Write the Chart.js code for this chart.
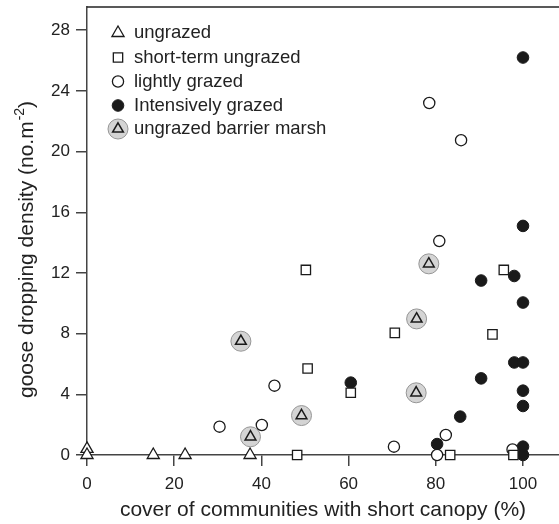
<!DOCTYPE html>
<html>
<head>
<meta charset="utf-8">
<script src="https://cdn.jsdelivr.net/npm/chart.js@4.4.1/dist/chart.umd.min.js"></script>
<style>
  html, body { margin: 0; padding: 0; background: #fff; }
  #wrap { width: 559px; height: 524px; }
</style>
</head>
<body>
<div id="wrap"><canvas id="chart"></canvas></div>
<script>
// valeurs
const ungrazedX = [0, 0, 15.2, 22.5, 37.4];
const ungrazedY = [0.4, 0, 0, 0, 0];

const shortTermX = [48.2, 50.2, 50.6, 60.5, 70.6, 83.3, 93.0, 95.6, 97.8];
const shortTermY = [0, 12.2, 5.7, 4.1, 8.05, 0, 7.95, 12.2, 0];

const lightlyX = [30.4, 40.1, 43.0, 70.4, 78.5, 80.3, 80.8, 82.3, 85.8, 97.6];
const lightlyY = [1.87, 1.98, 4.57, 0.55, 23.2, 0, 14.1, 1.32, 20.75, 0.37];

const intensX = [60.5, 80.3, 85.6, 90.4, 90.4, 98.0, 98.0, 100, 100, 100, 100, 100, 100, 100, 100];
const intensY = [4.77, 0.72, 2.53, 5.05, 11.5, 6.1, 11.8, 26.2, 15.1, 10.05, 6.1, 4.24, 3.23, 0.55, 0];

const barrierX = [35.3, 37.5, 49.2, 75.5, 75.6, 78.4];
const barrierY = [7.5, 1.2, 2.6, 4.1, 8.97, 12.6];

const xTicks = [0, 20, 40, 60, 80, 100];
const yTicks = [0, 4, 8, 12, 16, 20, 24, 28];

const legendLabels = ['ungrazed', 'short-term ungrazed', 'lightly grazed', 'Intensively grazed', 'ungrazed barrier marsh'];
const xTitle = 'cover of communities with short canopy (%)';
const yTitle = ['goose dropping density (no.m', '-2', ')'];

const ink = '#1a1a1a';
const textColor = '#222';
const axisColor = '#444';
const fontFamily = '"Liberation Sans", Arial, Helvetica, sans-serif';

function toPoints(xs, ys) {
    return xs.map((x, i) => ({ x: x, y: ys[i] }));
}

// styles des marqueurs
const styles = {
    ungrazed: { pointStyle: 'triangle', radius: 7, bg: '#fff', border: ink, bw: 1.3 },
    shortTerm: { pointStyle: 'rect', radius: 6.6, bg: '#fff', border: ink, bw: 1.3 },
    lightly: { pointStyle: 'circle', radius: 5.6, bg: '#fff', border: ink, bw: 1.3 },
    intens: { pointStyle: 'circle', radius: 5.8, bg: ink, border: ink, bw: 1 },
    barrierBg: { pointStyle: 'circle', radius: 10, bg: '#d4d4d4', border: '#959595', bw: 1 },
    barrierTri: { pointStyle: 'triangle', radius: 6.2, bg: 'rgba(0,0,0,0)', border: ink, bw: 1.5 }
};

function makeSet(label, data, s) {
    return {
        label: label,
        data: data,
        pointStyle: s.pointStyle,
        pointRadius: s.radius,
        pointHoverRadius: s.radius,
        pointBackgroundColor: s.bg,
        pointBorderColor: s.border,
        pointBorderWidth: s.bw,
        showLine: false
    };
}

// légende dessinée à la main (marqueur composite pour barrier marsh)
const legendPlugin = {
    id: 'manualLegend',
    afterDatasetsDraw(chart) {
        const ctx = chart.ctx;
        const draw = Chart.helpers.drawPoint;
        const mx = 118, tx = 134;
        const rows = [33, 57.5, 81.5, 105.5, 129];
        const marks = [[styles.ungrazed], [styles.shortTerm], [styles.lightly], [styles.intens], [styles.barrierBg, styles.barrierTri]];
        ctx.save();
        marks.forEach((list, i) => {
            list.forEach(s => {
                ctx.fillStyle = s.bg;
                ctx.strokeStyle = s.border;
                ctx.lineWidth = s.bw;
                draw(ctx, { pointStyle: s.pointStyle, radius: s.radius, rotation: 0, borderWidth: s.bw }, mx, rows[i]);
            });
            ctx.fillStyle = textColor;
            ctx.font = '18.5px ' + fontFamily;
            ctx.textBaseline = 'middle';
            ctx.textAlign = 'left';
            ctx.fillText(legendLabels[i], tx, rows[i]);
        });
        ctx.restore();
    }
};

// ligne du haut du cadre + titre Y avec exposant
const framePlugin = {
    id: 'topFrame',
    beforeDatasetsDraw(chart) {
        const a = chart.chartArea;
        const ctx = chart.ctx;
        ctx.save();
        ctx.strokeStyle = '#222';
        ctx.lineWidth = 1.5;
        ctx.beginPath();
        ctx.moveTo(a.left, a.top);
        ctx.lineTo(a.right, a.top);
        ctx.stroke();

        ctx.translate(33, 398);
        ctx.rotate(-Math.PI / 2);
        ctx.fillStyle = textColor;
        ctx.textBaseline = 'alphabetic';
        ctx.textAlign = 'left';
        ctx.font = '21px ' + fontFamily;
        ctx.fillText(yTitle[0], 0, 0);
        let w = ctx.measureText(yTitle[0]).width;
        ctx.font = '14px ' + fontFamily;
        ctx.fillText(yTitle[1], w + 1, -9);
        w += ctx.measureText(yTitle[1]).width + 1;
        ctx.font = '21px ' + fontFamily;
        ctx.fillText(yTitle[2], w, 0);
        ctx.restore();
    }
};

const ctx = document.getElementById('chart').getContext('2d');
const chart = new Chart(ctx, {
    type: 'scatter',
    data: {
        datasets: [
            makeSet('ungrazed', toPoints(ungrazedX, ungrazedY), styles.ungrazed),
            makeSet('short-term ungrazed', toPoints(shortTermX, shortTermY), styles.shortTerm),
            makeSet('lightly grazed', toPoints(lightlyX, lightlyY), styles.lightly),
            makeSet('Intensively grazed', toPoints(intensX, intensY), styles.intens),
            makeSet('ungrazed barrier marsh (triangle)', toPoints(barrierX, barrierY), styles.barrierTri),
            makeSet('ungrazed barrier marsh', toPoints(barrierX, barrierY), styles.barrierBg)
        ]
    },
    options: {
        responsive: true,
        maintainAspectRatio: false,
        animation: false,
        layout: { autoPadding: false, padding: { top: 7, right: 0, left: 0, bottom: 0 } },
        plugins: {
            legend: { display: false },
            tooltip: { enabled: false }
        },
        scales: {
            x: {
                type: 'linear',
                min: 0,
                max: 108.26,
                afterFit(scale) {
                    scale.height = 69;
                    scale.paddingLeft = 0; scale.paddingRight = 0;
                },
                afterBuildTicks(scale) { scale.ticks = xTicks.map(v => ({ value: v })); },
                border: { display: true, color: axisColor, width: 1.5 },
                grid: { drawOnChartArea: false, drawTicks: true, tickLength: 11, color: axisColor, lineWidth: 1.5 },
                ticks: { color: textColor, font: { family: fontFamily, size: 17 }, padding: 8, maxRotation: 0 },
                title: { display: true, text: xTitle, color: textColor, font: { family: fontFamily, size: 21 }, padding: { top: 0, bottom: 1.5 } }
            },
            y: {
                type: 'linear',
                min: 0,
                max: 29.53,
                afterFit(scale) {
                    scale.width = 87;
                    scale.paddingTop = 0; scale.paddingBottom = 0;
                },
                afterBuildTicks(scale) { scale.ticks = yTicks.map(v => ({ value: v })); },
                border: { display: true, color: axisColor, width: 1.5 },
                grid: { drawOnChartArea: false, drawTicks: true, tickLength: 11, color: axisColor, lineWidth: 1.5 },
                ticks: { color: textColor, font: { family: fontFamily, size: 17 }, padding: 6 },
                title: { display: false }
            }
        },
        elements: { point: { hitRadius: 0 } },
        clip: false
    },
    plugins: [framePlugin, legendPlugin]
});
</script>
</body>
</html>
